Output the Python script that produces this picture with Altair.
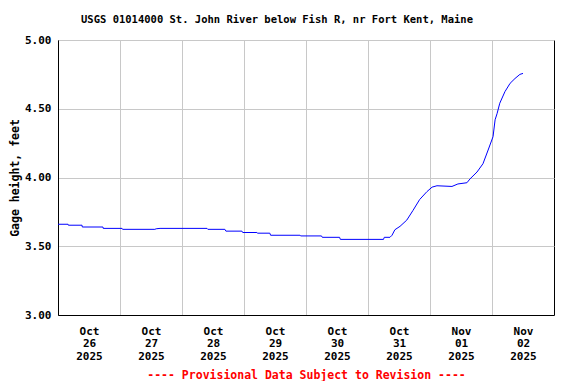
import altair as alt
import pandas as pd

# hours since 2025-10-26 00:00 and gage height (feet)
hours = [0, 3.9, 4.0, 9.3, 9.4, 17.4, 17.5, 24.8, 25.0, 37.5, 38.0, 39.5, 57.7, 58.0,
         64.6, 65.0, 71.2, 71.5, 77.0, 77.3, 82.0, 82.3, 93.7, 94.0, 102.0, 102.3,
         109.0, 109.3, 126.0, 126.3, 128.5, 129.3, 130.4, 132.4, 135.0, 137.4, 140.0,
         142.8, 144.8, 146.7, 152.5, 154.8, 158.3, 159.5, 162.2, 164.5, 166.5, 168.4,
         169.2, 170.0, 171.0, 173.0, 175.0, 176.9, 178.8, 180.0]
stage = [3.660, 3.660, 3.653, 3.653, 3.640, 3.640, 3.630, 3.630, 3.623, 3.623, 3.627,
         3.630, 3.630, 3.623, 3.623, 3.610, 3.610, 3.600, 3.600, 3.595, 3.595, 3.580,
         3.580, 3.575, 3.575, 3.565, 3.565, 3.550, 3.550, 3.565, 3.565, 3.580, 3.620,
         3.645, 3.690, 3.760, 3.840, 3.897, 3.930, 3.940, 3.935, 3.953, 3.962, 3.990,
         4.040, 4.100, 4.200, 4.297, 4.420, 4.467, 4.540, 4.624, 4.685, 4.720, 4.750,
         4.757]
y_ticks = [3.0, 3.5, 4.0, 4.5, 5.0]
day_ticks = [(2025, 10, 26), (2025, 10, 27), (2025, 10, 28), (2025, 10, 29),
             (2025, 10, 30), (2025, 10, 31), (2025, 11, 1), (2025, 11, 2)]

base = pd.Timestamp("2025-10-26T00:00:00")
df = pd.DataFrame({
    "time": [(base + pd.Timedelta(hours=h)).strftime("%Y-%m-%dT%H:%M:%S") for h in hours],
    "stage": stage,
})

FONT = "DejaVu Sans Mono"

x_vals = [alt.DateTime(year=y, month=m, date=d, hours=0) for (y, m, d) in day_ticks]

chart = alt.Chart(df).mark_line(color="#0000FF", strokeWidth=1, interpolate="linear").encode(
    x=alt.X("time:T",
            scale=alt.Scale(domain=[alt.DateTime(year=2025, month=10, date=26, hours=0),
                                    alt.DateTime(year=2025, month=11, date=3, hours=0)]),
            axis=alt.Axis(values=x_vals, grid=True, ticks=False, labelOffset=31,
                          labelExpr="[timeFormat(datum.value,'%b'), timeFormat(datum.value,'%d'), timeFormat(datum.value,'%Y')]",
                          labelLineHeight=12.7, labelPadding=10, labelOverlap=False,
                          labelFlush=False, labelBound=False,
                          title="---- Provisional Data Subject to Revision ----",
                          titleColor="#FF0000", titleFontSize=11.5, titlePadding=8)),
    y=alt.Y("stage:Q", scale=alt.Scale(domain=[3, 5], nice=False, zero=False),
            axis=alt.Axis(values=y_ticks, format=".2f", grid=True, ticks=False,
                          labelPadding=7, title="Gage height, feet", titleFontSize=11.5,
                          titlePadding=4)),
).properties(
    width=496, height=275,
    title=alt.TitleParams("USGS 01014000 St. John River below Fish R, nr Fort Kent, Maine",
                          font=FONT, fontSize=10.5, fontWeight="bold", anchor="middle",
                          dx=-29, offset=9, color="black"),
    autosize=alt.AutoSizeParams(type="none"),
    padding={"left": 50, "top": 32, "right": 14, "bottom": 66},
).configure(
    background="white",
).configure_view(
    stroke="black", strokeWidth=1,
).configure_axis(
    labelFont=FONT, titleFont=FONT, labelFontSize=11, labelFontWeight="bold",
    titleFontWeight="bold", labelColor="black", titleColor="black",
    domainColor="black", gridColor="#c8c8c8", gridWidth=1,
)

chart.save("out.html", embed_options={"renderer": "svg", "actions": False})
